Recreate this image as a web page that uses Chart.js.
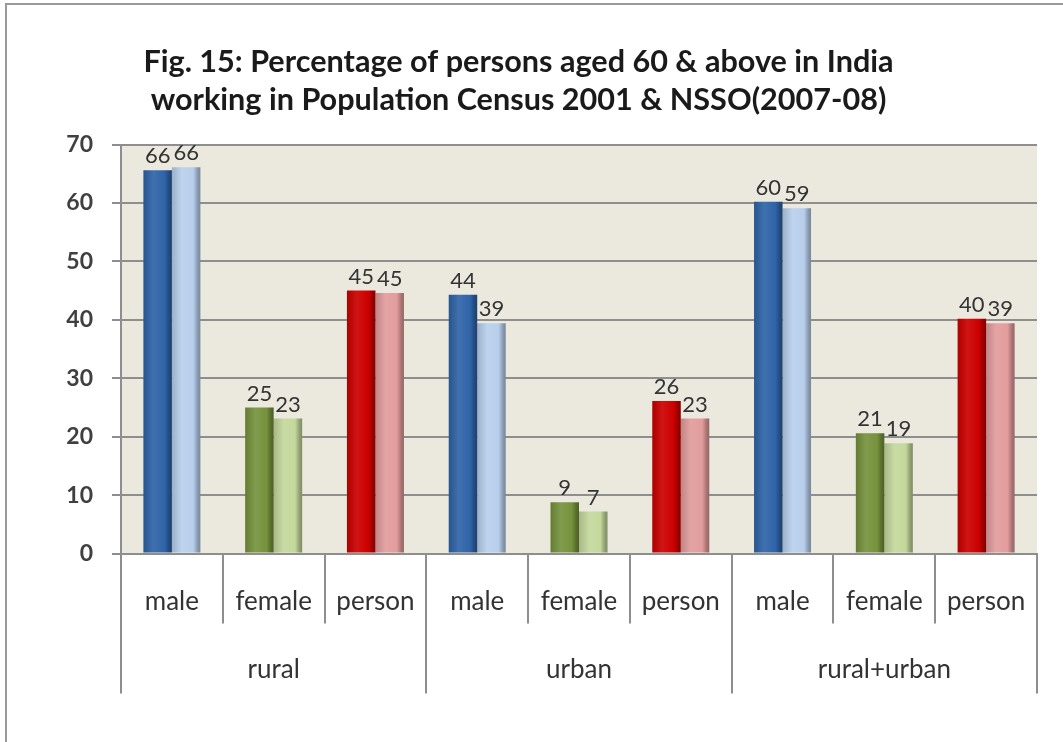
<!DOCTYPE html>
<html>
<head>
<meta charset="utf-8">
<script src="https://cdn.jsdelivr.net/npm/chart.js@4"></script>
<style>
  html, body { margin: 0; padding: 0; background: #ffffff; }
  #wrap { position: relative; width: 1063px; height: 742px; overflow: hidden; }
  #frame { position: absolute; left: 5px; top: 3px; width: 1070px; height: 760px; border-left: 2px solid #9a9a9a; border-top: 2px solid #9a9a9a; pointer-events: none; }
  canvas { position: absolute; left: 0; top: 0; }
</style>
</head>
<body>
<div id="wrap">
  <canvas id="c" width="1063" height="742"></canvas>
  <div id="frame"></div>
</div>
<script>
// ---- data ----
const categories = ['male', 'female', 'person', 'male', 'female', 'person', 'male', 'female', 'person'];
const groups = ['rural', 'urban', 'rural+urban'];
const census2001 = [65.6, 25.0, 45.0, 44.3, 8.8, 26.1, 60.2, 20.6, 40.2];
const nsso2007 = [66.1, 23.1, 44.6, 39.4, 7.2, 23.1, 59.1, 18.9, 39.4];
const titleLines = ['Fig. 15: Percentage of persons aged 60 & above in India', 'working in Population Census 2001 & NSSO(2007-08)'];

// ---- colours ----
const darkCols = { male: '#2f64a8', female: '#76923c', person: '#cc0000' };
const lightCols = { male: '#b8cfec', female: '#c4d89c', person: '#e29c9c' };
const darkColors = categories.map(c => darkCols[c]);
const lightColors = categories.map(c => lightCols[c]);

function shade(hex, f) {
  const n = parseInt(hex.slice(1), 16);
  let r = (n >> 16) & 255, g = (n >> 8) & 255, b = n & 255;
  if (f < 0) { r *= (1 + f); g *= (1 + f); b *= (1 + f); }
  else { r += (255 - r) * f; g += (255 - g) * f; b += (255 - b) * f; }
  return 'rgb(' + Math.round(r) + ',' + Math.round(g) + ',' + Math.round(b) + ')';
}

const plotBg = {
  id: 'plotBg',
  beforeDraw(chart) {
    const { ctx, chartArea: a } = chart;
    ctx.save();
    ctx.fillStyle = '#ebe8dd';
    ctx.fillRect(a.left, a.top, a.right - a.left, a.bottom - a.top);
    ctx.restore();
  }
};

const cylinder = {
  id: 'cylinder',
  beforeDatasetsDraw(chart) {
    const ctx = chart.ctx;
    chart.data.datasets.forEach((ds, di) => {
      const meta = chart.getDatasetMeta(di);
      meta.data.forEach((el, i) => {
        const p = el.getProps(['x', 'width'], true);
        const base = ds.backgroundColor[i];
        const g = ctx.createLinearGradient(p.x - p.width / 2, 0, p.x + p.width / 2, 0);
        g.addColorStop(0, shade(base, -0.15));
        g.addColorStop(0.35, shade(base, 0.08));
        g.addColorStop(0.75, base);
        g.addColorStop(0.9, shade(base, -0.25));
        g.addColorStop(1, shade(base, -0.35));
        el.options = Object.assign({}, el.options, { backgroundColor: g });
      });
    });
  }
};

const valueLabels = {
  id: 'valueLabels',
  afterDatasetsDraw(chart) {
    const ctx = chart.ctx;
    ctx.save();
    ctx.font = '22px Lato';
    ctx.fillStyle = '#333333';
    ctx.textAlign = 'center';
    ctx.textBaseline = 'bottom';
    chart.data.datasets.forEach((ds, di) => {
      const meta = chart.getDatasetMeta(di);
      meta.data.forEach((el, i) => {
        ctx.fillText(String(Math.round(ds.data[i])), el.x, el.y - 3);
      });
    });
    ctx.restore();
  }
};

// category / group separator lines below the plot, placed from the x scale
const separators = {
  id: 'separators',
  afterDraw(chart) {
    const ctx = chart.ctx;
    const xs = chart.scales.x;
    const bottom = chart.chartArea.bottom;
    const n = categories.length;
    const step = (xs.right - xs.left) / n;
    ctx.save();
    ctx.strokeStyle = '#8e8e8e';
    ctx.lineWidth = 2;
    for (let i = 0; i <= n; i++) {
      const x = Math.round(xs.left + i * step);
      const len = (i % 3 === 0) ? 140 : 70;
      ctx.beginPath();
      ctx.moveTo(x, bottom);
      ctx.lineTo(x, bottom + len);
      ctx.stroke();
    }
    ctx.restore();
  }
};

new Chart(document.getElementById('c'), {
  type: 'bar',
  data: {
    labels: categories,
    datasets: [
      { label: 'Census 2001', data: census2001, backgroundColor: darkColors, borderWidth: 0, xAxisID: 'x' },
      { label: 'NSSO (2007-08)', data: nsso2007, backgroundColor: lightColors, borderWidth: 0, xAxisID: 'x' }
    ]
  },
  options: {
    responsive: false,
    animation: false,
    events: [],
    layout: { padding: { left: 0, right: 26, top: 22, bottom: 52 } },
    datasets: { bar: { categoryPercentage: 0.56, barPercentage: 1.0 } },
    plugins: {
      legend: { display: false },
      tooltip: { enabled: false },
      title: {
        display: true,
        text: titleLines,
        color: '#1a1a1a',
        font: { family: 'Lato', weight: 'bold', size: 30.6, lineHeight: 1.25 },
        padding: { top: 21, bottom: 25 }
      }
    },
    scales: {
      y: {
        min: 0, max: 70,
        afterFit(scale) { scale.width = 121; },
        ticks: { stepSize: 10, color: '#404040', font: { family: 'Lato', weight: 'bold', size: 23 }, padding: 19 },
        grid: { color: '#8e8e8e', lineWidth: 2, tickLength: 9, tickColor: '#8e8e8e' },
        border: { display: true, color: '#8e8e8e', width: 2 }
      },
      x: {
        position: 'bottom',
        offset: true,
        ticks: { color: '#333333', font: { family: 'Lato', size: 26 }, padding: 32, maxRotation: 0, autoSkip: false },
        grid: { display: false, drawTicks: false },
        border: { display: true, color: '#8e8e8e', width: 2 }
      },
      x2: {
        type: 'category',
        position: 'bottom',
        labels: groups,
        offset: true,
        ticks: { color: '#333333', font: { family: 'Lato', size: 26 }, padding: 5, maxRotation: 0, autoSkip: false },
        grid: { display: false, drawTicks: false },
        border: { display: false }
      }
    }
  },
  plugins: [plotBg, cylinder, valueLabels, separators]
});
</script>
</body>
</html>
